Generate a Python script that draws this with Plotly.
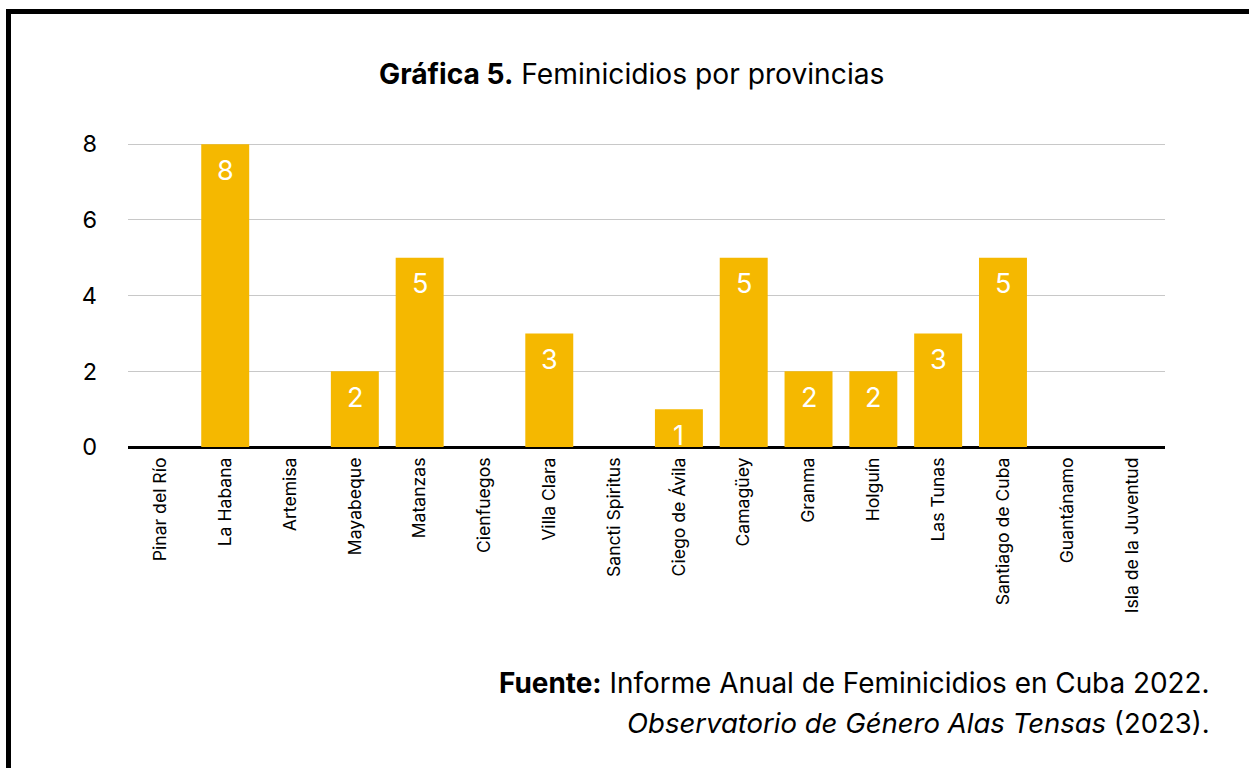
import plotly.graph_objects as go

provincias = [
    "Pinar del Río", "La Habana", "Artemisa", "Mayabeque", "Matanzas",
    "Cienfuegos", "Villa Clara", "Sancti Spiritus", "Ciego de Ávila",
    "Camagüey", "Granma", "Holguín", "Las Tunas", "Santiago de Cuba",
    "Guantánamo", "Isla de la Juventud",
]
feminicidios = [0, 8, 0, 2, 5, 0, 3, 0, 1, 5, 2, 2, 3, 5, 0, 0]
y_ticks = [0, 2, 4, 6, 8]

W, H = 1249, 768
ML, MR, MT, MB = 128, 84, 143, 321
PW, PH = W - ML - MR, H - MT - MB
Y_MAX = 8.03


def px(x):
    return (x - ML) / PW


def py(y):
    return (H - MB - y) / PH


FONT = "Inter"
GOLD = "#F5B800"

fig = go.Figure(
    go.Bar(
        x=provincias,
        y=feminicidios,
        marker=dict(color=GOLD, line=dict(width=0)),
        hoverinfo="x+y",
    )
)

# value labels inside the top of each bar
for name, v in zip(provincias, feminicidios):
    if v > 0:
        fig.add_annotation(
            x=name, y=v, xref="x", yref="y", text=str(v),
            showarrow=False, yanchor="middle", yshift=-26,
            font=dict(family=FONT, size=27, color="white"),
        )

fig.update_layout(
    width=W,
    height=H,
    margin=dict(l=ML, r=MR, t=MT, b=MB),
    paper_bgcolor="white",
    plot_bgcolor="white",
    bargap=0.26,
    showlegend=False,
    font=dict(family=FONT, color="black"),
)

fig.update_xaxes(
    tickangle=-90,
    tickfont=dict(family=FONT, size=17.6, color="black"),
    showgrid=False,
    ticks="",
    showline=False,
    ticklabelstandoff=6,
)
fig.update_yaxes(
    range=[0, Y_MAX],
    tickvals=y_ticks,
    tickfont=dict(family=FONT, size=23.5, color="black"),
    gridcolor="#c8c8c8",
    gridwidth=1,
    zeroline=True,
    zerolinecolor="black",
    zerolinewidth=3,
    ticklabelstandoff=30,
)

# title and source notes
fig.add_annotation(
    x=px(631), y=py(74), xref="paper", yref="paper",
    text="<b>Gráfica 5.</b> Feminicidios por provincias",
    showarrow=False, xanchor="center", yanchor="middle",
    font=dict(family=FONT, size=28.2, color="black"),
)
fig.add_annotation(
    x=px(1212), y=py(683), xref="paper", yref="paper",
    text="<b>Fuente:</b> Informe Anual de Feminicidios en Cuba 2022.",
    showarrow=False, xanchor="right", yanchor="middle",
    font=dict(family=FONT, size=27.9, color="black"),
)
fig.add_annotation(
    x=px(1212), y=py(723), xref="paper", yref="paper",
    text="<i>Observatorio de Género Alas Tensas</i> (2023).",
    showarrow=False, xanchor="right", yanchor="middle",
    font=dict(family=FONT, size=27.5, color="black"),
)

# page frame along the top and left edges
fig.add_shape(type="rect", xref="paper", yref="paper",
              x0=px(6), x1=px(W + 20), y0=py(9), y1=py(14),
              fillcolor="black", line=dict(width=0), layer="above")
fig.add_shape(type="rect", xref="paper", yref="paper",
              x0=px(6), x1=px(11), y0=py(9), y1=py(H + 20),
              fillcolor="black", line=dict(width=0), layer="above")

fig.write_html("out.html")
